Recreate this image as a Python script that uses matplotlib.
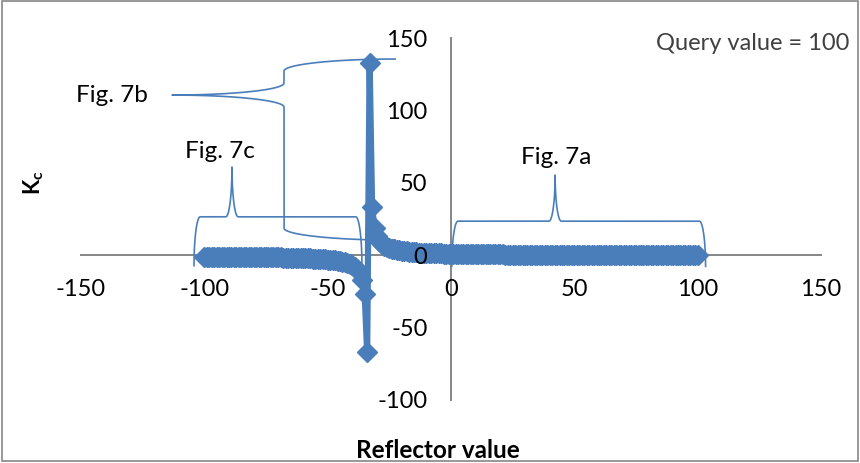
import matplotlib
matplotlib.use("Agg")
import matplotlib.pyplot as plt
import numpy as np
from matplotlib.patches import Rectangle

plt.rcParams["font.family"] = ["Lato", "DejaVu Sans"]
plt.rcParams["mathtext.fontset"] = "custom"
plt.rcParams["mathtext.rm"] = "Lato"
plt.rcParams["mathtext.bf"] = "Lato:bold"
plt.rcParams["axes.unicode_minus"] = False

# reflector values -100 .. 100, one point per integer
reflector = np.arange(-100, 101)
kc = [
    -1.000, -1.010, -1.021, -1.031, -1.043, -1.054, -1.066, -1.078, -1.091, -1.104,
    -1.118, -1.132, -1.146, -1.161, -1.177, -1.194, -1.211, -1.228, -1.247, -1.266,
    -1.286, -1.307, -1.328, -1.351, -1.375, -1.400, -1.426, -1.454, -1.483, -1.513,
    -1.545, -1.579, -1.615, -1.653, -1.694, -1.737, -1.783, -1.831, -1.884, -1.940,
    -2.000, -2.065, -2.135, -2.211, -2.294, -2.385, -2.484, -2.593, -2.714, -2.849,
    -3.000, -3.170, -3.364, -3.585, -3.842, -4.143, -4.500, -4.931, -5.462, -6.130,
    -7.000, -8.176, -9.857, -12.455, -17.000, -27.000, -67.000, 133.000, 33.000, 18.714,
    13.000, 9.923, 8.000, 6.684, 5.727, 5.000, 4.429, 3.968, 3.588, 3.270,
    3.000, 2.767, 2.565, 2.388, 2.231, 2.091, 1.966, 1.852, 1.750, 1.657,
    1.571, 1.493, 1.421, 1.354, 1.293, 1.235, 1.182, 1.132, 1.085, 1.041,
    1.000, 0.961, 0.925, 0.890, 0.857, 0.826, 0.797, 0.769, 0.742, 0.717,
    0.692, 0.669, 0.647, 0.626, 0.606, 0.586, 0.568, 0.550, 0.532, 0.516,
    0.500, 0.485, 0.470, 0.456, 0.442, 0.429, 0.416, 0.403, 0.391, 0.380,
    0.368, 0.358, 0.347, 0.337, 0.327, 0.317, 0.308, 0.299, 0.290, 0.281,
    0.273, 0.265, 0.257, 0.249, 0.241, 0.234, 0.227, 0.220, 0.213, 0.206,
    0.200, 0.194, 0.188, 0.181, 0.176, 0.170, 0.164, 0.159, 0.153, 0.148,
    0.143, 0.138, 0.133, 0.128, 0.123, 0.119, 0.114, 0.110, 0.105, 0.101,
    0.097, 0.093, 0.089, 0.085, 0.081, 0.077, 0.073, 0.069, 0.066, 0.062,
    0.059, 0.055, 0.052, 0.049, 0.045, 0.042, 0.039, 0.036, 0.033, 0.030,
    0.027, 0.024, 0.021, 0.018, 0.016, 0.013, 0.010, 0.008, 0.005, 0.003,
    0.000,
]

x_ticks = [-150, -100, -50, 0, 50, 100, 150]
y_ticks = [-100, -50, 0, 50, 100, 150]

BLUE = "#4A7EBB"
GREY = "#868686"


def arc(cx, cy, rx, ry, a0, a1, n=40):
    t = np.radians(np.linspace(a0, a1, n))
    return cx + rx * np.cos(t), cy + ry * np.sin(t)


def draw_parts(ax, parts):
    xs = np.concatenate([p[0] for p in parts])
    ys = np.concatenate([p[1] for p in parts])
    ax.plot(xs, ys, color=BLUE, lw=1.2, zorder=1.5, solid_capstyle="butt")


def brace_up(ax, x0, x1, x_tip, y_spine, y_tip, r):
    # brace on its side, tip pointing up
    h = y_tip - y_spine
    y_end = y_spine - h
    draw_parts(ax, [
        arc(x0 + r, y_end, r, h, 180, 90),
        arc(x_tip - r, y_tip, r, h, 270, 360),
        arc(x_tip + r, y_tip, r, h, 180, 270),
        arc(x1 - r, y_end, r, h, 90, 0),
    ])


def brace_left(ax, y0, y1, y_tip, x_tip, x_spine, r):
    # brace standing up, tip pointing left
    w = x_spine - x_tip
    x_end = x_spine + w
    draw_parts(ax, [
        arc(x_end, y1 - r, w, r, 90, 180),
        arc(x_tip, y_tip + r, w, r, 0, -90),
        arc(x_tip, y_tip - r, w, r, 90, 0),
        arc(x_end, y0 + r, w, r, 180, 270),
    ])


fig = plt.figure(figsize=(8.6, 4.63), dpi=100)
ax = fig.add_axes([0.0942, 0.1361, 0.8605, 0.7818])
ax.set_xlim(-150, 150)
ax.set_ylim(-100, 150)

for side in ("top", "right"):
    ax.spines[side].set_visible(False)
for side in ("left", "bottom"):
    ax.spines[side].set_position(("data", 0))
    ax.spines[side].set_color(GREY)
    ax.spines[side].set_linewidth(1.4)
    ax.spines[side].set_zorder(1)
ax.set_axisbelow(False)

ax.set_xticks(x_ticks)
ax.set_yticks(y_ticks)
ax.tick_params(length=0, labelsize=17, pad=17)

ax.plot(reflector, kc, color=BLUE, lw=4.5, marker="D", ms=10.5, zorder=2)

brace_up(ax, 0.3, 103.2, 42.2, 23.5, 55.3, 2.5)
brace_up(ax, -104.2, -36.1, -88.8, 26.5, 60.8, 2.5)
brace_left(ax, 10.4, 135.5, 110.6, -113.1, -67.7, 8.3)

ax.text(-137.4, 110.6, "Fig. 7b", fontsize=17.5, ha="center", va="center")
ax.text(-93.6, 71.9, "Fig. 7c", fontsize=17.5, ha="center", va="center")
ax.text(42.6, 67.7, "Fig. 7a", fontsize=17.5, ha="center", va="center")
ax.text(122.4, 146.5, "Query value = 100", fontsize=17, ha="center", va="center",
        color="#404040")

fig.text(0.0395, 0.605, r"$\mathbf{K_c}$", rotation=90, ha="center", va="center",
         fontsize=16)
fig.text(0.509, 0.028, "Reflector value", fontweight="bold", fontsize=17.5,
         ha="center", va="center")

fig.patches.append(Rectangle((0.002, 0.004), 0.996, 0.994, transform=fig.transFigure,
                             fill=False, ec=GREY, lw=1.2))

fig.savefig("out.png", dpi=100)
plt.close(fig)
